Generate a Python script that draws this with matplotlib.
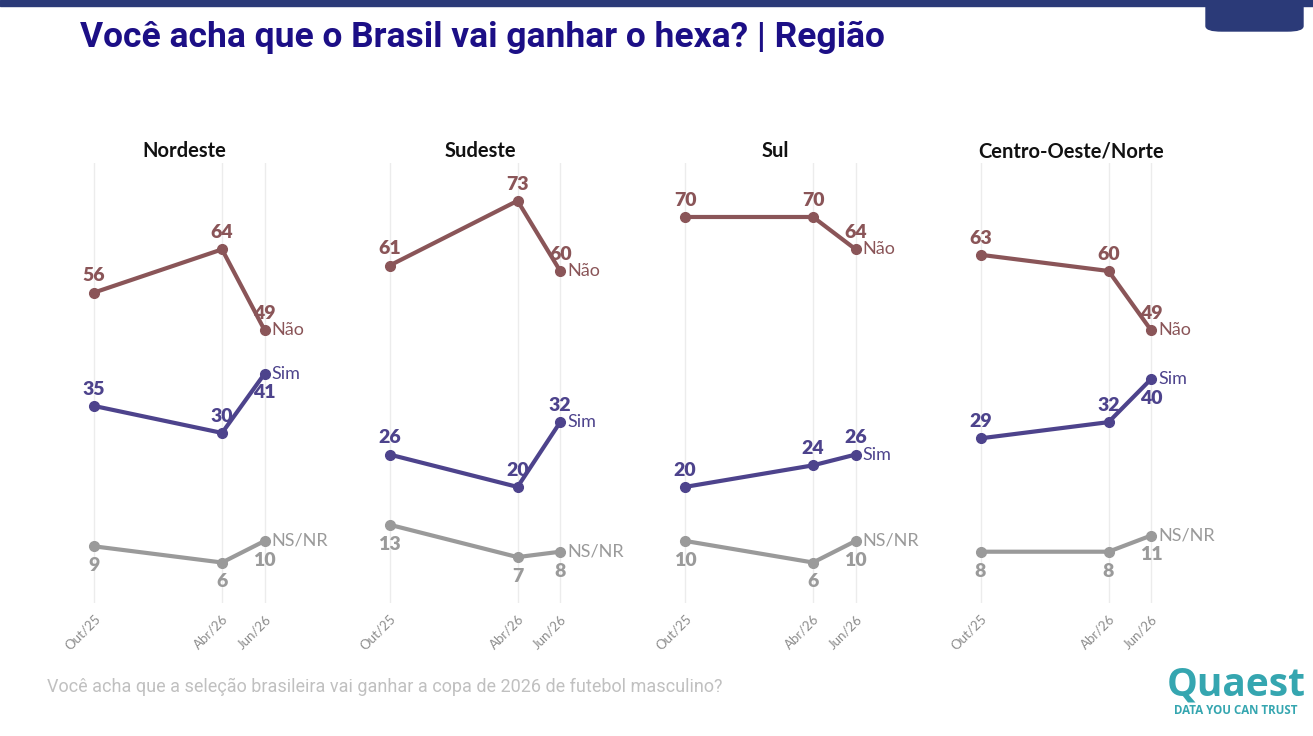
import matplotlib
matplotlib.use("Agg")
import matplotlib.pyplot as plt
from matplotlib.patches import Rectangle, FancyBboxPatch

# data
regions = ["Nordeste", "Sudeste", "Sul", "Centro-Oeste/Norte"]
months = [0, 6, 8]  # Out/25, Abr/26, Jun/26 (months since Out/25)
month_labels = ["Out/25", "Abr/26", "Jun/26"]

nao = [[56, 64, 49], [61, 73, 60], [70, 70, 64], [63, 60, 49]]
sim = [[35, 30, 41], [26, 20, 32], [20, 24, 26], [29, 32, 40]]
nsnr = [[9, 6, 10], [13, 7, 8], [10, 6, 10], [8, 8, 11]]

series_names = ["Não", "Sim", "NS/NR"]
colors = ["#8a5558", "#4d438c", "#9a9a9a"]

W, H = 1313, 736
fig = plt.figure(figsize=(W / 100, H / 100), dpi=100)
fig.patch.set_facecolor("white")

# top band + tab
fig.add_artist(Rectangle((0, 1 - 6 / H), 1, 6 / H, transform=fig.transFigure,
                         color="#2b3a78", zorder=5))
fig.add_artist(FancyBboxPatch((1206 / W, 1 - 31 / H), 97 / W, 31 / H,
                              boxstyle="round,pad=0,rounding_size=0.012",
                              transform=fig.transFigure, color="#2b3a78",
                              mutation_aspect=H / W, zorder=5))

fig.text(80 / W, 1 - 37 / H, "Você acha que o Brasil vai ganhar o hexa? | Região",
         fontsize=25.5, fontweight="bold", color="#1c0f86", family="Roboto",
         va="center", ha="left")

ax_w = 224 / W
ax_h = 440 / H
ax_b = (H - 603) / H

for i, reg in enumerate(regions):
    left = (72.7 + 295.5 * i) / W
    ax = fig.add_axes([left, ax_b, ax_w, ax_h])
    ax.set_xlim(-1, 9.5)
    ax.set_ylim(-1.5, 80)
    for s in ax.spines.values():
        s.set_visible(False)
    ax.set_yticks([])
    ax.set_xticks(months)
    ax.set_xticklabels(month_labels, rotation=45, ha="right", va="top",
                       rotation_mode="anchor", fontsize=9.5, color="#8c8c8c",
                       family="Lato")
    ax.tick_params(axis="x", length=0, pad=7)
    ax.grid(axis="x", color="#ececec", linewidth=1)
    ax.set_axisbelow(True)
    ax.set_title(reg, fontsize=14.5, fontweight="bold", family="Lato",
                 color="#111111", pad=4)

    data = [nao[i], sim[i], nsnr[i]]
    for k, vals in enumerate(data):
        c = colors[k]
        ax.plot(months, vals, color=c, linewidth=3, marker="o", markersize=7,
                solid_capstyle="round", zorder=3)
        for j, v in enumerate(vals):
            above = k != 2
            if k == 1 and j == 2 and nao[i][2] - v < 12:
                above = False
            dy = 12 if above else -14
            ax.annotate(str(v), (months[j], v), xytext=(0, dy),
                        textcoords="offset points", ha="center", va="center",
                        fontsize=14, fontweight="heavy", color=c,
                        family="Lato", zorder=4)
        ax.annotate(series_names[k], (months[-1], vals[-1]), xytext=(5, 0),
                    textcoords="offset points", ha="left", va="center",
                    fontsize=13, color=c, family="Lato", zorder=4)

fig.text(47 / W, 1 - 687 / H,
         "Você acha que a seleção brasileira vai ganhar a copa de 2026 de futebol masculino?",
         fontsize=13, color="#c0c0c0", family="Roboto", va="center", ha="left")

# logo
fig.text(1236 / W, 1 - 685 / H, "Quaest", fontsize=28, fontweight="bold",
         color="#35a6b0", family="Open Sans", ha="center", va="center")
fig.text(1236 / W, 1 - 711 / H, "DATA YOU CAN TRUST", fontsize=8.3,
         fontweight="bold", color="#35a6b0", family="Open Sans",
         ha="center", va="center")

fig.savefig("out.png", dpi=100)
